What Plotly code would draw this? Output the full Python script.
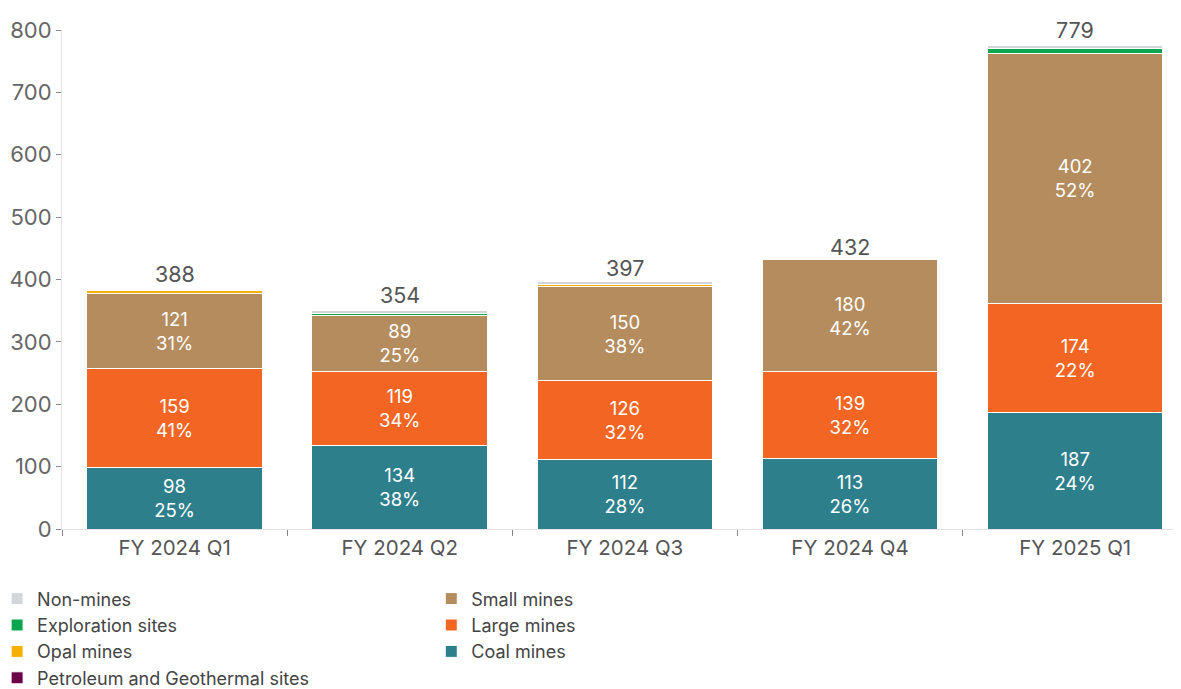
import plotly.graph_objects as go

# Quarters and values by category
quarters = ["FY 2024 Q1", "FY 2024 Q2", "FY 2024 Q3", "FY 2024 Q4", "FY 2025 Q1"]
totals = [388, 354, 397, 432, 779]

coal = [98, 134, 112, 113, 187]
large = [159, 119, 126, 139, 174]
small = [121, 89, 150, 180, 402]
opal = [5, 0, 4, 0, 0]
petroleum = [0, 0, 0, 0, 0]
exploration = [0, 4, 0, 0, 8]
non_mines = [0, 4, 5, 0, 4]

FONT = "Inter"

# (name, values, colour, legend, rank, labelled)
series = [
    ("Coal mines", coal, "#2e7f8c", "legend2", 3, True),
    ("Large mines", large, "#f26522", "legend2", 2, True),
    ("Small mines", small, "#b58c5e", "legend2", 1, True),
    ("Opal mines", opal, "#f7b000", "legend", 3, False),
    ("Petroleum and Geothermal sites", petroleum, "#6b0049", "legend", 4, False),
    ("Exploration sites", exploration, "#0aa64e", "legend", 2, False),
    ("Non-mines", non_mines, "#d2d6d9", "legend", 1, False),
]

fig = go.Figure()

for name, vals, colour, leg, rank, labelled in series:
    texts = None
    if labelled:
        texts = [f"{v}<br>{round(v / t * 100)}%" for v, t in zip(vals, totals)]
    fig.add_trace(go.Bar(
        x=quarters, y=vals, name=name,
        marker=dict(color=colour, line=dict(color="white", width=1)),
        text=texts, textposition="inside" if labelled else "none",
        insidetextanchor="middle",
        textfont=dict(color="white", size=18.5, family=FONT),
        legend=leg, legendrank=rank,
    ))

# total labels above each bar
for q, t in zip(quarters, totals):
    fig.add_annotation(x=q, y=t, text=str(t), showarrow=False,
                       yanchor="middle", yshift=13,
                       font=dict(size=21.5, color="#555", family=FONT))

legend_style = dict(xanchor="left", yanchor="top", traceorder="normal",
                    font=dict(size=18, color="#444", family=FONT),
                    tracegroupgap=0, itemwidth=30, bgcolor="rgba(0,0,0,0)")

fig.update_layout(
    barmode="stack", bargap=0.22,
    width=1181, height=689,
    margin=dict(l=54, r=8, t=22, b=168, autoexpand=False),
    plot_bgcolor="white", paper_bgcolor="white",
    font=dict(family=FONT, color="#555"),
    uniformtext=dict(minsize=10, mode="hide"),
    legend=dict(x=-0.058, y=-0.103, **legend_style),
    legend2=dict(x=0.330, y=-0.103, **legend_style),
)

fig.update_xaxes(
    range=[-0.5, 4.47], showline=True, linecolor="#e3e3e3", linewidth=1,
    ticks="outside", tickson="boundaries", ticklen=6, tickcolor="#888",
    tickfont=dict(size=20.5, color="#555"), showgrid=False,
)
fig.update_yaxes(
    range=[0, 800], tickvals=list(range(0, 801, 100)),
    showline=True, linecolor="#e3e3e3", linewidth=1,
    ticks="outside", ticklen=5, tickcolor="#888",
    tickfont=dict(size=22, color="#666"), showgrid=False, zeroline=False,
)

fig.write_html("out.html")
